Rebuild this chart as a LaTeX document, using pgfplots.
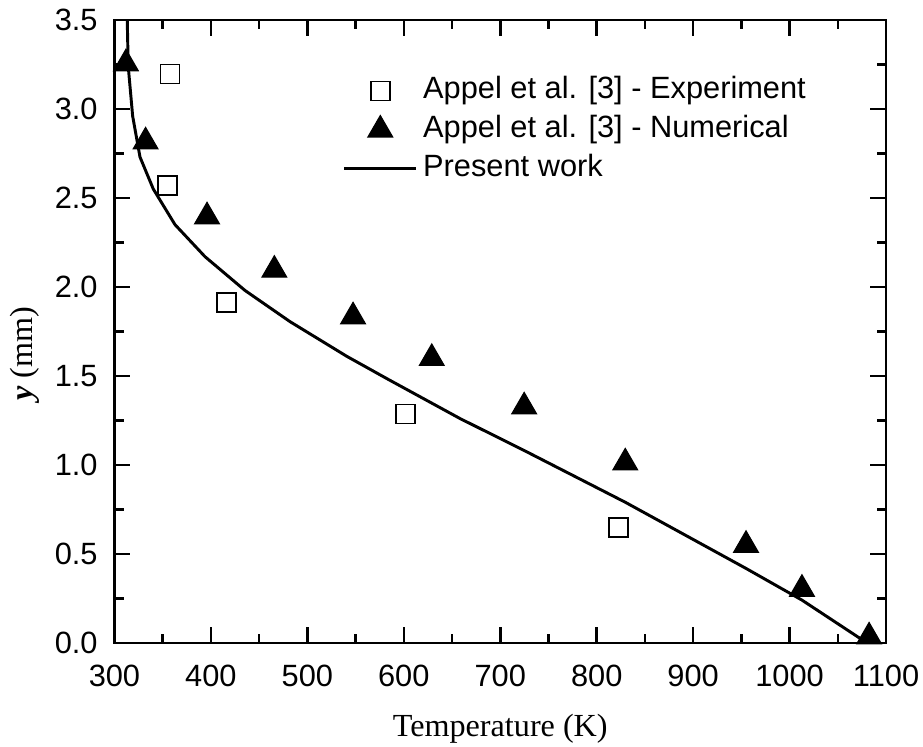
\documentclass[border=0pt]{standalone}
\usepackage{fontspec}
\setmainfont{Liberation Serif}
\newfontfamily\arialfont{Liberation Sans}
\usepackage{pgfplots}
\pgfplotsset{compat=1.18}
\begin{document}
\begin{tikzpicture}
\begin{axis}[
  scale only axis,
  width=275.8pt, height=222.6pt,
  xmin=300, xmax=1100, ymin=0, ymax=3.5,
  xtick={300,400,...,1100},
  ytick={0,0.5,...,3.5},
  minor x tick num=1, minor y tick num=1,
  major tick length=5.7pt, minor tick length=3.3pt,
  tick style={line width=0.9pt, black},
  axis line style={line width=0.9pt},
  /pgf/number format/assume math mode=true,
  tick label style={font=\arialfont\fontsize{11}{13}\selectfont},
  xticklabel style={yshift=-4.3pt, /pgf/number format/1000 sep={}},
  yticklabel style={xshift=-2.5pt, /pgf/number format/fixed, /pgf/number format/fixed zerofill, /pgf/number format/precision=1},
  xlabel={Temperature (K)},
  ylabel={\textbf{\textit{y}} (mm)},
  label style={font=\fontsize{11.5}{13}\selectfont},
  xlabel style={at={(axis description cs:0.5,0)}, anchor=base, yshift=-33.6pt},
  ylabel style={at={(axis description cs:0,0.464)}, anchor=center, yshift=32pt},
  legend cell align=left,
  legend style={draw=none, fill=none, at={(rel axis cs:0,1)}, anchor=north west,
    xshift=78.5pt, yshift=-16.2pt, row sep=0pt,
    font=\arialfont\fontsize{11}{13}\selectfont,
    nodes={text height=7.7pt, text depth=2.2pt, inner sep=2pt}},
  legend image code/.code={\draw[mark repeat=2,mark phase=2,#1] plot coordinates {(0cm,0cm)(0.45cm,0cm)(0.9cm,0cm)};},
]
\addplot[only marks, mark=square, mark size=3.4pt, mark options={line width=0.6pt, black, fill=white}]
coordinates {(357.6,3.197)(355.2,2.569)(416.4,1.913)(602,1.286)(822.3,0.649)};
\addlegendentry{Appel et al. [3] - Experiment}
\addplot[only marks, mark=triangle*, mark size=5.1pt, mark options={black, fill=black}]
coordinates {(311.9,3.255)(332.3,2.816)(396,2.395)(465.8,2.095)(547.4,1.833)(629,1.599)(724.8,1.327)(829.6,1.012)(954.8,0.549)(1012.8,0.302)(1082.4,0.034)};
\addlegendentry{Appel et al. [3] - Numerical}
\addplot[black, line width=1.05pt, mark=none]
coordinates {(313.3,3.5)(314.3,3.24)(318.9,2.96)(326.5,2.73)(340.3,2.55)(362.8,2.35)(393.9,2.17)(435.4,1.98)(482,1.805)(540.9,1.61)(584,1.48)(658.4,1.26)(724,1.083)(829.6,0.79)(954.8,0.418)(1012.8,0.24)(1080,0.0)};
\addlegendentry{Present work}
\end{axis}
\pgfresetboundingbox
\path[use as bounding box] ([xshift=-40.9pt,yshift=-37.2pt]current axis.south west) rectangle ([xshift=13.2pt,yshift=7.15pt]current axis.north east);
\end{tikzpicture}
\end{document}
